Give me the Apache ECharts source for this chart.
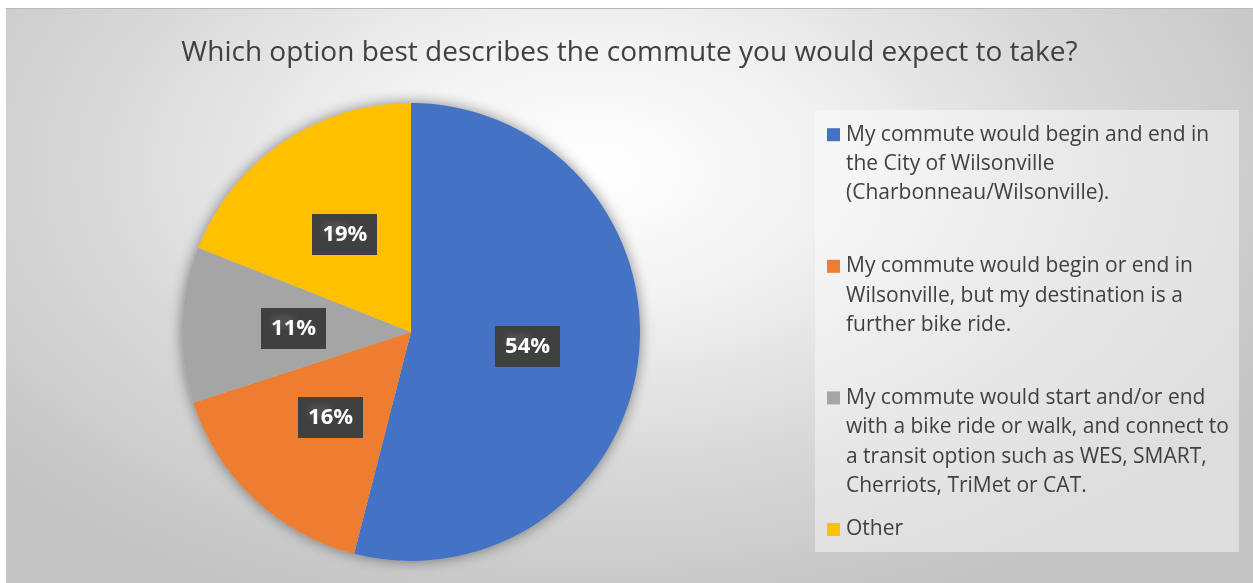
<!DOCTYPE html>
<html>
<head>
<meta charset="utf-8">
<script src="https://cdn.jsdelivr.net/npm/echarts@6/dist/echarts.min.js"></script>
<style>
  html, body { margin: 0; padding: 0; background: #ffffff; width: 1253px; height: 583px; overflow: hidden; }
  #frame { position: absolute; left: 6px; top: 8px; width: 1247px; height: 575px;
    border-top: 1px solid #b9b9b9;
    background: radial-gradient(ellipse 62% 80% at 47% 28%, #ffffff 0%, #f3f3f3 28%, #dadada 62%, #c4c4c4 100%); }
  #chart { position: absolute; left: 0; top: 0; width: 1247px; height: 575px; }
</style>
</head>
<body>
<div id="frame"><div id="chart"></div></div>
<script>
// ---- data ----
const titleText = 'Which option best describes the commute you would expect to take?';
const legendLines = [
  ['My commute would begin and end in', 'the City of Wilsonville', '(Charbonneau/Wilsonville).'],
  ['My commute would begin or end in', 'Wilsonville, but my destination is a', 'further bike ride.'],
  ['My commute would start and/or end', 'with a bike ride or walk, and connect to', 'a transit option such as WES, SMART,', 'Cherriots, TriMet or CAT.'],
  ['Other']
];
const categories = legendLines.map(l => l.join(' '));
const values = [54, 16, 11, 19];
const colors = ['#4472C4', '#ED7D31', '#A5A5A5', '#FFC000'];

// ---- styling helpers ----
const FONT = '"Open Sans", "Noto Sans", sans-serif';
const LH = 29.4;

function dotPattern() {
  const c = document.createElement('canvas');
  c.width = 6; c.height = 6;
  const g = c.getContext('2d');
  g.fillStyle = '#404040'; g.fillRect(0, 0, 6, 6);
  g.fillStyle = '#4f4f4f'; g.fillRect(1, 1, 2, 2);
  return c;
}

const rich = { t: { fontFamily: FONT, fontSize: 21, color: '#404040', lineHeight: LH, height: LH },
               ind: { width: 19, lineHeight: LH, height: LH },
               gap: { width: 6, lineHeight: LH } };
colors.forEach((c, i) => {
  rich['sq' + i] = { width: 13, height: 13, backgroundColor: c, lineHeight: LH };
});

function legendText(name) {
  const i = categories.indexOf(name);
  const lines = legendLines[i].slice();
  const out = lines.map((ln, k) => (k === 0 ? '{sq' + i + '|}{gap|}' : '{ind|}') + '{t|' + ln + '}');
  while (out.length < 4 && i < categories.length - 1) out.push('{ind|}{t| }');
  return out.join('\n');
}

const chart = echarts.init(document.getElementById('chart'), null, { renderer: 'canvas' });
chart.setOption({
  animation: false,
  title: {
    text: titleText, left: 'center', top: 21,
    textStyle: { fontFamily: FONT, fontSize: 28, fontWeight: 'normal', color: '#404040', lineHeight: 36 }
  },
  graphic: [{
    type: 'rect', left: 809, top: 101, z: 0,
    shape: { width: 424, height: 442 },
    style: { fill: 'rgba(255,255,255,0.42)' }
  }],
  legend: {
    orient: 'vertical', left: 816, top: 111, padding: 0, itemGap: 14,
    icon: 'none', itemWidth: 0, itemHeight: 13,
    data: categories,
    formatter: legendText,
    textStyle: { rich: rich, lineHeight: LH },
    selectedMode: false
  },
  series: [
    {
      type: 'pie', silent: true, center: [405, 323], radius: 229, startAngle: 90,
      data: [{ name: '_bg', value: values.reduce((a, b) => a + b, 0) }],
      label: { show: false }, labelLine: { show: false },
      itemStyle: { color: '#c0c0c0', shadowBlur: 14, shadowColor: 'rgba(0,0,0,0.45)' },
      z: 1
    },
    {
      type: 'pie', center: [405, 323], radius: 229, startAngle: 90, clockwise: true,
      data: categories.map((n, i) => ({ name: n, value: values[i], itemStyle: { color: colors[i] } })),
      label: {
        show: true, position: 'inside',
        formatter: p => p.value + '%',
        fontFamily: FONT, fontSize: 22, fontWeight: 'bold', color: '#ffffff',
        backgroundColor: { image: dotPattern(), repeat: 'repeat' },
        padding: [9, 10, 8, 10], lineHeight: 24
      },
      labelLine: { show: false },
      itemStyle: { borderWidth: 0 },
      emphasis: { disabled: true },
      z: 2
    }
  ]
});
</script>
</body>
</html>
